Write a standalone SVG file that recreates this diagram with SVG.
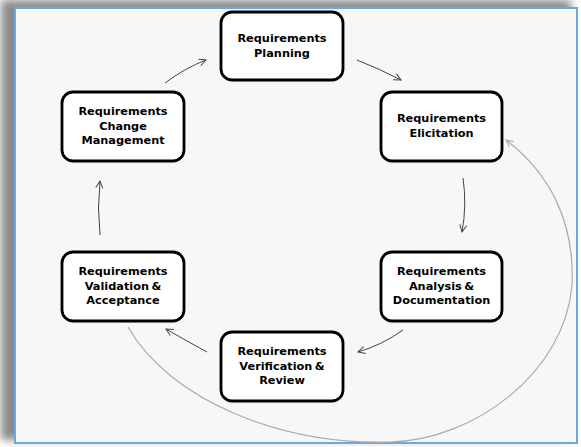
<svg xmlns="http://www.w3.org/2000/svg" width="581" height="447" viewBox="0 0 581 447">
<defs>
  <filter id="sh" x="-10%" y="-10%" width="120%" height="120%">
    <feGaussianBlur stdDeviation="4"/>
  </filter>
  <marker id="ah" markerUnits="userSpaceOnUse" markerWidth="10" markerHeight="10" refX="8" refY="4" orient="auto">
    <path d="M1,0.5 L8,4 L1,7.5" fill="none" stroke="#444" stroke-width="1"/>
  </marker>
  <marker id="ahg" markerUnits="userSpaceOnUse" markerWidth="10" markerHeight="10" refX="8" refY="4" orient="auto">
    <path d="M1,0.5 L8,4 L1,7.5" fill="none" stroke="#aaa" stroke-width="1"/>
  </marker>
</defs>
<style>
  .box { fill: #ffffff; stroke: #000; stroke-width: 2.8; }
  .lbl { font-family: "DejaVu Sans", Verdana, sans-serif; font-weight: bold; font-size: 11.3px; fill: #000; text-anchor: middle; word-spacing: -1.5px; }
  .conn { fill: none; stroke: #444; stroke-width: 1; marker-end: url(#ah); }
  .big { fill: none; stroke: #aaa; stroke-width: 1.2; marker-end: url(#ahg); }
</style>
<rect width="581" height="447" fill="#ffffff"/>
<rect x="1" y="0" width="570" height="440" fill="#8a8a8a" filter="url(#sh)"/>
<rect x="15" y="8" width="562" height="435" fill="#f7f7f7" stroke="#6fa8dc" stroke-width="2"/>

<g id="connectors">
  <path class="conn" d="M165,83 Q185,68 206,60"/>
  <path class="conn" d="M357,60 Q380,69 401,80"/>
  <path class="conn" d="M463,178 Q467,205 462,232"/>
  <path class="conn" d="M403,330 Q382,345 358,352"/>
  <path class="conn" d="M207,352 Q185,340 166,329"/>
  <path class="conn" d="M100,235 Q97,208 100,181"/>
  <path class="big" d="M128,327 C170,400 280,445 390,442 C475,440 565,372 572,285 C575,220 548,172 506,140"/>
</g>

<g id="planning">
  <rect class="box" x="221" y="12" width="122" height="68" rx="11"/>
  <text class="lbl" x="282" y="42">Requirements</text>
  <text class="lbl" x="282" y="57">Planning</text>
</g>
<g id="elicitation">
  <rect class="box" x="381" y="92" width="121" height="69" rx="11"/>
  <text class="lbl" x="441.5" y="122">Requirements</text>
  <text class="lbl" x="441.5" y="137">Elicitation</text>
</g>
<g id="analysis">
  <rect class="box" x="381" y="252" width="121" height="69" rx="11"/>
  <text class="lbl" x="441.5" y="275">Requirements</text>
  <text class="lbl" x="441.5" y="290">Analysis &amp;</text>
  <text class="lbl" x="441.5" y="304">Documentation</text>
</g>
<g id="verification">
  <rect class="box" x="221" y="332" width="122" height="69" rx="11"/>
  <text class="lbl" x="282" y="355">Requirements</text>
  <text class="lbl" x="282" y="370">Verification &amp;</text>
  <text class="lbl" x="282" y="384">Review</text>
</g>
<g id="validation">
  <rect class="box" x="62" y="252" width="122" height="69" rx="11"/>
  <text class="lbl" x="123" y="275">Requirements</text>
  <text class="lbl" x="123" y="290">Validation &amp;</text>
  <text class="lbl" x="123" y="304">Acceptance</text>
</g>
<g id="change">
  <rect class="box" x="62" y="92" width="122" height="69" rx="11"/>
  <text class="lbl" x="123" y="115">Requirements</text>
  <text class="lbl" x="123" y="130">Change</text>
  <text class="lbl" x="123" y="144">Management</text>
</g>
</svg>
